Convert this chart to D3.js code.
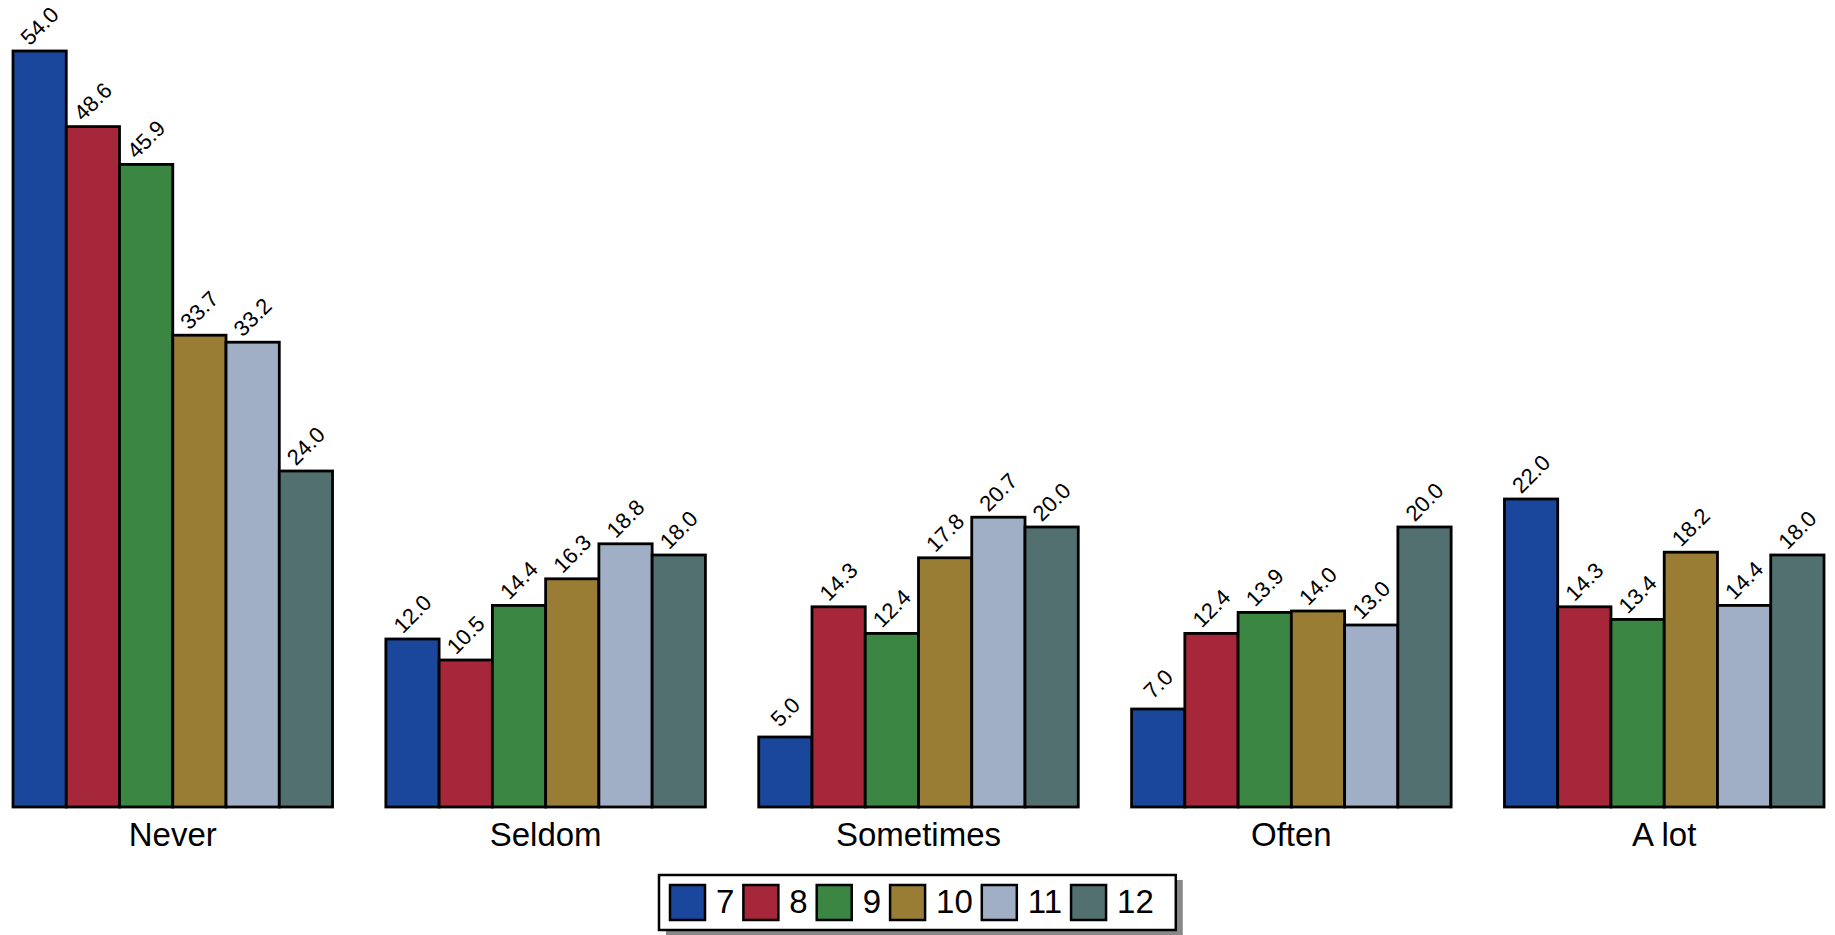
<!DOCTYPE html>
<meta charset="utf-8">
<script src="https://d3js.org/d3.v7.min.js"></script>
<style>
  body { margin: 0; background: #fff; }
  text { font-family: "Liberation Sans", Arial, sans-serif; }
</style>
<div id="chart"></div>
<script>
// data
var categories = ["Never", "Seldom", "Sometimes", "Often", "A lot"];
var grades = ["7", "8", "9", "10", "11", "12"];
var grade7  = [54.0, 12.0, 5.0, 7.0, 22.0];
var grade8  = [48.6, 10.5, 14.3, 12.4, 14.3];
var grade9  = [45.9, 14.4, 12.4, 13.9, 13.4];
var grade10 = [33.7, 16.3, 17.8, 14.0, 18.2];
var grade11 = [33.2, 18.8, 20.7, 13.0, 14.4];
var grade12 = [24.0, 18.0, 20.0, 20.0, 18.0];
var series = [grade7, grade8, grade9, grade10, grade11, grade12];
var colours = ["#1a479b", "#a6263a", "#3a8642", "#9a7d35", "#a1afc6", "#527070"];

var width = 1835, height = 935;
var svg = d3.select("#chart").append("svg")
    .attr("width", width)
    .attr("height", height);

// scales
var x0 = d3.scaleBand()
    .domain(categories)
    .range([13, 1824])
    .paddingInner(0.143);
var x1 = d3.scaleBand()
    .domain(grades)
    .range([0, x0.bandwidth()]);
var y = d3.scaleLinear()
    .domain([0, 54])
    .range([807, 51]);

// flatten for drawing
var rows = [];
categories.forEach(function(c, ci) {
  grades.forEach(function(g, gi) {
    rows.push({cat: c, grade: g, gi: gi, value: series[gi][ci]});
  });
});

var bars = svg.append("g");
bars.selectAll("rect")
  .data(rows)
  .enter()
  .append("rect")
    .attr("x", function(d) { return x0(d.cat) + x1(d.grade); })
    .attr("y", function(d) { return y(d.value); })
    .attr("width", x1.bandwidth())
    .attr("height", function(d) { return y(0) - y(d.value); })
    .style("fill", function(d) { return colours[d.gi]; })
    .style("stroke", "#000")
    .style("stroke-width", 2.8);

// value labels, rotated 45 degrees
bars.selectAll("text")
  .data(rows)
  .enter()
  .append("text")
    .attr("transform", function(d) {
      var cx = x0(d.cat) + x1(d.grade) + x1.bandwidth() / 2;
      var cy = y(d.value) - 25;
      return "translate(" + cx + "," + cy + ")rotate(-45)";
    })
    .attr("text-anchor", "middle")
    .attr("dominant-baseline", "central")
    .style("font-size", "22px")
    .text(function(d) { return d.value.toFixed(1); });

// category labels
var xAxis = svg.append("g")
  .attr("transform", "translate(0,807)")
  .call(d3.axisBottom(x0).tickSize(0).tickPadding(16));
xAxis.select(".domain").remove();
xAxis.selectAll("text")
  .style("font-size", "33px")
  .style("font-family", "'Liberation Sans', Arial, sans-serif")
  .attr("fill", "#000");

// legend
var legend = svg.append("g").attr("transform", "translate(659,875)");
var legendShadow = legend.append("rect")
  .attr("x", 7).attr("y", 5)
  .attr("height", 55)
  .style("fill", "#888");
var legendBox = legend.append("rect")
  .attr("x", 0).attr("y", 0)
  .attr("height", 55)
  .style("fill", "#fff")
  .style("stroke", "#000")
  .style("stroke-width", 2.5);

var lx = 11;
grades.forEach(function(g, gi) {
  legend.append("rect")
    .attr("x", lx).attr("y", 10)
    .attr("width", 35).attr("height", 35)
    .style("fill", colours[gi])
    .style("stroke", "#000")
    .style("stroke-width", 2.5);
  var t = legend.append("text")
    .attr("x", lx + 46)
    .attr("y", 38)
    .style("font-size", "33px")
    .text(g);
  lx += 46 + t.node().getComputedTextLength() + 9;
});
var boxW = lx - 9 + 22;
legendBox.attr("width", boxW);
legendShadow.attr("width", boxW);
</script>
